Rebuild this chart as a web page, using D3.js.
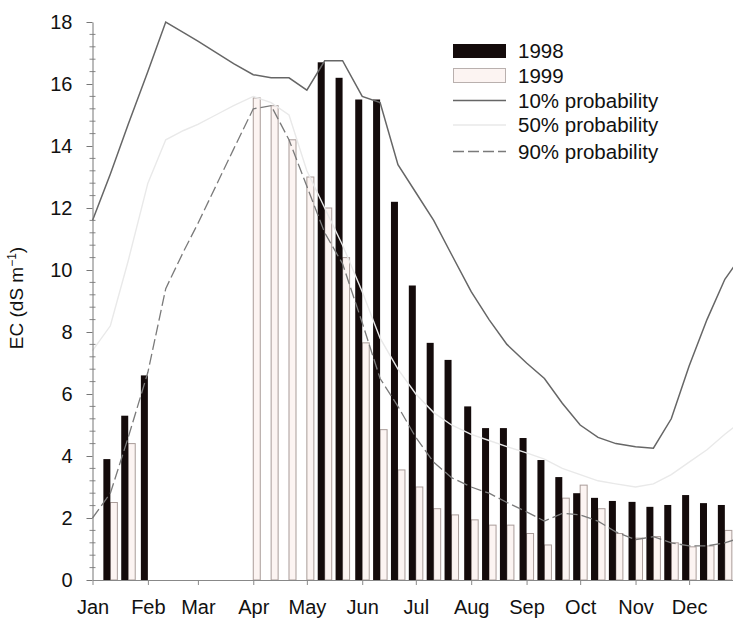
<!DOCTYPE html>
<html>
<head>
<meta charset="utf-8">
<script src="https://cdn.jsdelivr.net/npm/d3@7"></script>
<style>
  html, body { margin: 0; padding: 0; background: #fff; }
  svg { display: block; font-family: Arial, "Liberation Sans", sans-serif; }
</style>
</head>
<body>
<svg id="chart" width="733" height="619"></svg>
<script>
// ---- data ----
const months = ["Jan","Feb","Mar","Apr","May","Jun","Jul","Aug","Sep","Oct","Nov","Dec"];
const dekadDates = [
  "1998-01-01","1998-01-11","1998-01-21","1998-02-01","1998-02-11","1998-02-21",
  "1998-03-01","1998-03-11","1998-03-21","1998-04-01","1998-04-11","1998-04-21",
  "1998-05-01","1998-05-11","1998-05-21","1998-06-01","1998-06-11","1998-06-21",
  "1998-07-01","1998-07-11","1998-07-21","1998-08-01","1998-08-11","1998-08-21",
  "1998-09-01","1998-09-11","1998-09-21","1998-10-01","1998-10-11","1998-10-21",
  "1998-11-01","1998-11-11","1998-11-21","1998-12-01","1998-12-11","1998-12-21",
  "1999-01-01"
];
const ec1998 = [null, 3.9, 5.3, 6.6, null, null, null, null, null, null, null, null,
  null, 16.7, 16.2, 15.5, 15.5, 12.2, 9.5, 7.65, 7.1, 5.6, 4.9, 4.9,
  4.58, 3.87, 3.32, 2.8, 2.65, 2.55, 2.52, 2.36, 2.42, 2.74, 2.48, 2.42, null];
const ec1999 = [null, 2.5, 4.4, null, null, null, null, null, null, 15.55, 15.3, 14.2,
  13.0, 12.0, 10.4, 7.65, 4.85, 3.55, 3.0, 2.3, 2.1, 1.94, 1.77, 1.77,
  1.5, 1.13, 2.64, 3.06, 2.3, 1.5, 1.35, 1.4, 1.2, 1.07, 1.1, 1.6, null];
const p10 = [11.6, 13.1, 14.7, 16.4, 18.0, 17.66, 17.38, 17.02, 16.66, 16.3, 16.2, 16.2,
  15.8, 16.75, 16.75, 15.6, 15.4, 13.4, 12.5, 11.6, 10.5, 9.3, 8.4, 7.6,
  7.0, 6.5, 5.7, 5.0, 4.6, 4.4, 4.3, 4.25, 5.2, 6.9, 8.4, 9.7, 10.6];
const p50 = [7.4, 8.2, 10.3, 12.8, 14.2, 14.5, 14.7, 15.0, 15.3, 15.6, 15.4, 15.0,
  13.2, 12.0, 10.8, 9.3, 7.8, 6.8, 6.0, 5.4, 5.0, 4.7, 4.5, 4.3,
  4.1, 3.9, 3.6, 3.4, 3.2, 3.1, 3.0, 3.1, 3.4, 3.8, 4.2, 4.7, 5.2];
const p90 = [2.0, 2.8, 4.6, 6.7, 9.4, 10.6, 11.5, 12.7, 13.9, 15.2, 15.3, 14.2,
  12.7, 11.2, 10.2, 8.3, 6.5, 5.6, 4.6, 3.8, 3.3, 3.0, 2.8, 2.5,
  2.2, 1.9, 2.15, 2.1, 1.9, 1.55, 1.3, 1.4, 1.2, 1.1, 1.1, 1.2, 1.4];
const yTicks = [0, 2, 4, 6, 8, 10, 12, 14, 16, 18];
const legendLabels = ["1998", "1999", "10% probability", "50% probability", "90% probability"];

// ---- scales ----
const parse = d3.timeParse("%Y-%m-%d");
const dates = dekadDates.map(parse);
const x = d3.scaleTime()
  .domain([new Date(1998, 0, 1), new Date(1999, 0, 1)])
  .range([92.5, 744.5]);
const y = d3.scaleLinear().domain([0, 18]).range([580, 22]);

const svg = d3.select("#chart");
const barW = 7;

// ---- bars ----
const g = svg.append("g");
g.selectAll("rect.b99")
  .data(dates.map((d, i) => ({d, v: ec1999[i]})).filter(o => o.v != null))
  .join("rect")
  .attr("class", "b99")
  .attr("x", o => x(o.d))
  .attr("y", o => y(o.v))
  .attr("width", barW)
  .attr("height", o => y(0) - y(o.v))
  .attr("fill", "#fcf4f2")
  .attr("stroke", "#a99c99")
  .attr("stroke-width", 1);

g.selectAll("rect.b98")
  .data(dates.map((d, i) => ({d, v: ec1998[i]})).filter(o => o.v != null))
  .join("rect")
  .attr("class", "b98")
  .attr("x", o => x(o.d) - barW)
  .attr("y", o => y(o.v))
  .attr("width", barW)
  .attr("height", o => y(0) - y(o.v))
  .attr("fill", "#140b0b");

// ---- lines ----
const line = arr => d3.line()
  .x((d, i) => x(dates[i]))
  .y(d => y(d))(arr);

svg.append("path").attr("d", line(p50))
  .attr("fill", "none").attr("stroke", "#e9e9e9").attr("stroke-width", 1.4);
svg.append("path").attr("d", line(p90))
  .attr("fill", "none").attr("stroke", "#7a7a7a").attr("stroke-width", 1.3)
  .attr("stroke-dasharray", "11,4");
svg.append("path").attr("d", line(p10))
  .attr("fill", "none").attr("stroke", "#666").attr("stroke-width", 1.5);

// ---- axes ----
const minor = d3.range(0, 18.01, 0.4).filter(v => Math.abs(v / 2 - Math.round(v / 2)) > 1e-6);
svg.append("g").selectAll("line").data(minor).join("line")
  .attr("x1", 89.5).attr("x2", 95.5)
  .attr("y1", d => y(d)).attr("y2", d => y(d))
  .attr("stroke", "#888").attr("stroke-width", 1);

const yAxis = svg.append("g")
  .attr("transform", "translate(92.5,0)")
  .call(d3.axisLeft(y).tickValues(yTicks).tickFormat(d3.format("d")).tickSize(6).tickPadding(14).tickSizeOuter(0));
yAxis.select(".domain").attr("stroke", "#777");
yAxis.selectAll(".tick line").attr("stroke", "#777");
yAxis.selectAll("text").attr("font-size", 20).attr("fill", "#111")
  .attr("font-family", "Arial, 'Liberation Sans', sans-serif");

const monthStarts = months.map((m, i) => new Date(1998, i, 1));
const xAxis = svg.append("g")
  .attr("transform", "translate(0,580)")
  .call(d3.axisBottom(x).tickValues(monthStarts).tickFormat((d, i) => months[i]).tickSize(5).tickPadding(15).tickSizeOuter(0));
xAxis.select(".domain").attr("stroke", "#888");
xAxis.selectAll(".tick line").attr("stroke", "#888");
xAxis.selectAll("text").attr("font-size", 20).attr("fill", "#111")
  .attr("font-family", "Arial, 'Liberation Sans', sans-serif");

// y title
svg.append("text")
  .attr("transform", "translate(23,298) rotate(-90)")
  .attr("text-anchor", "middle")
  .attr("font-size", 19)
  .attr("fill", "#111")
  .html('EC (dS m<tspan dy="-7" font-size="12">−1</tspan><tspan dy="7">)</tspan>');

// ---- legend ----
const lg = svg.append("g");
const lx = 453, lw = 53, rowY = [51, 75.5, 100.5, 125, 151.5];
lg.append("rect").attr("x", lx).attr("y", 44).attr("width", lw).attr("height", 14).attr("fill", "#140b0b");
lg.append("rect").attr("x", lx + 0.5).attr("y", 68.5).attr("width", lw - 1).attr("height", 14)
  .attr("fill", "#fcf4f2").attr("stroke", "#b9b0ae");
lg.append("line").attr("x1", lx).attr("x2", lx + lw).attr("y1", rowY[2]).attr("y2", rowY[2])
  .attr("stroke", "#666").attr("stroke-width", 1.5);
lg.append("line").attr("x1", lx).attr("x2", lx + lw).attr("y1", rowY[3]).attr("y2", rowY[3])
  .attr("stroke", "#e9e9e9").attr("stroke-width", 1.4);
lg.append("line").attr("x1", lx).attr("x2", lx + lw).attr("y1", rowY[4]).attr("y2", rowY[4])
  .attr("stroke", "#7a7a7a").attr("stroke-width", 1.3).attr("stroke-dasharray", "11,4");
lg.selectAll("text.lt").data(legendLabels).join("text")
  .attr("class", "lt")
  .attr("x", 518)
  .attr("y", (d, i) => rowY[i] + 7)
  .attr("font-size", 20.5)
  .attr("fill", "#111")
  .text(d => d);
</script>
</body>
</html>
